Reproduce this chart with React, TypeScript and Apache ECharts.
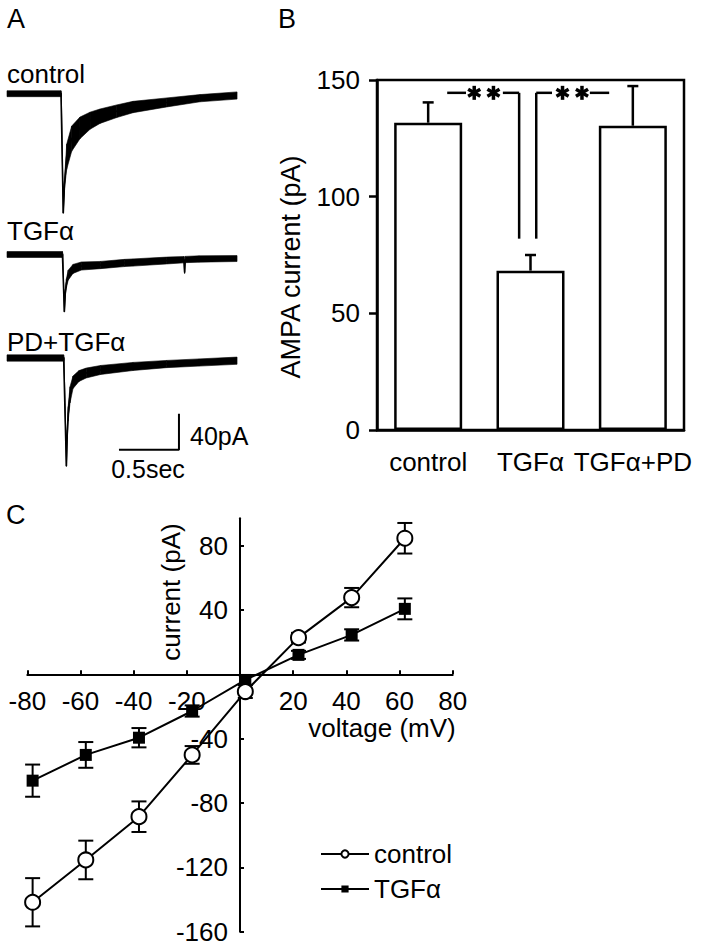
import React, { useEffect, useRef } from 'react';
import * as echarts from 'echarts';

const FONT = '"Liberation Sans", Arial, Helvetica, sans-serif';

// ---------- Panel A: example AMPA current traces (time s, current pA, noise half-width pA)
const CONTROL_T = [0, 0.45, 0.4525, 0.469, 0.479, 0.4975, 0.539, 0.608, 0.692, 0.775, 0.914, 1.05, 1.331, 1.608, 1.917];
const CONTROL_I = [0, 0, 0, -132.5, -101, -70, -50, -38, -30, -25, -19.5, -14.8, -9.7, -5, -2];
const CONTROL_N = [3.3, 3.3, 0.8, 0.5, 4.5, 14, 14, 12, 9.5, 8, 7, 6.3, 5, 4, 4];

const TGF_T = [0, 0.462, 0.465, 0.478, 0.486, 0.495, 0.51, 0.55, 0.62, 0.78, 0.98, 1.05, 1.33, 1.475, 1.48, 1.485, 1.6, 1.917];
const TGF_I = [0, 0, 0, -63.5, -42, -32, -23, -16, -12.8, -11.7, -9.4, -8.9, -6.7, -5.8, -20, -5.6, -5, -4.5];
const TGF_N = [3.3, 3.3, 0.8, 0.5, 3, 5, 5.5, 5, 4.5, 4, 4, 4, 3.8, 3.5, 1, 3.5, 3.5, 3.3];

const PD_T = [0, 0.472, 0.475, 0.495, 0.502, 0.51, 0.525, 0.55, 0.6, 0.66, 0.78, 1.05, 1.33, 1.6, 1.917];
const PD_I = [0, 0, 0, -120, -85, -62, -41, -27, -20, -16.7, -13.3, -9.4, -6.7, -5, -3];
const PD_N = [3.5, 3.5, 0.8, 0.5, 5, 8, 9, 7, 6, 5.5, 5, 4.5, 4, 4, 4];

const TRACE_LABELS = ['control', 'TGFα', 'PD+TGFα'];

// scale bar (corner position in the PD+TGFα trace's coordinates)
const SCALE_CORNER = [1.433, -102];
const SCALE_DT = 0.5; // s
const SCALE_DI = 40; // pA

// ---------- Panel B: mean AMPA current
const B_CATEGORIES = ['control', 'TGFα', 'TGFα+PD'];
const B_MEANS = [131.7, 68.3, 130.4];
const B_SEM = [8.7, 6.7, 17];
const B_TICKS = [0, 50, 100, 150];
// significance brackets (category-index x, pA y): segments and asterisk positions
const B_BRACKET_SEGS = [
  [0.186, 144.5, 0.37, 144.5],
  [0.73, 144.5, 0.889, 144.5],
  [0.889, 144.5, 0.889, 82],
  [1.056, 82, 1.056, 144.5],
  [1.056, 144.5, 1.21, 144.5],
  [1.58, 144.5, 1.769, 144.5],
];
const B_STARS = [
  [0.45, 144.5],
  [0.638, 144.5],
  [1.313, 144.5],
  [1.503, 144.5],
];

// ---------- Panel C: I-V relation
const VOLTAGES = [-78, -58, -38, -18, 2, 22, 42, 62];
const C_CONTROL = [-141.7, -115.4, -88.5, -50.1, -10.7, 22.8, 47.7, 84.6];
const C_CONTROL_SEM = [15, 12, 9.5, 5.5, 4, 3, 6, 9.5];
const C_TGF = [-66.1, -50.1, -39.4, -22.8, -3.5, 12.1, 24.5, 40.7];
const C_TGF_SEM = [10, 8, 6, 3.5, 3, 2.5, 3.5, 6.5];
const C_X_RANGE = [-80, 80];
const C_Y_RANGE = [-160, 97];
const C_X_LABELS = [-80, -60, -40, -20, 20, 40, 60, 80];
const C_X_TICKS = [-80, -60, -40, -20, 0, 20, 40, 60, 80];
const C_Y_LABELS = [-160, -120, -80, -40, 40, 80];
const C_Y_TICKS = [-160, -120, -80, -40, 0, 40, 80];

// panel C grid box (pixels)
const C_GRID = { left: 27.3, top: 518.3, width: 425.4, height: 413.4 };
// offsets so that the axes cross at the origin (0 mV, 0 pA)
const C_ZERO_X = C_GRID.left + (C_GRID.width * (0 - C_X_RANGE[0])) / (C_X_RANGE[1] - C_X_RANGE[0]);
const C_ZERO_Y = C_GRID.top + (C_GRID.height * (C_Y_RANGE[1] - 0)) / (C_Y_RANGE[1] - C_Y_RANGE[0]);

function txt(text: string, x: number, y: number, o: any = {}) {
  return {
    type: 'text',
    x,
    y,
    rotation: o.rotation || 0,
    silent: true,
    style: {
      text,
      fill: '#000',
      fontSize: o.fontSize || 26,
      fontFamily: FONT,
      align: o.align || 'left',
      verticalAlign: 'middle',
    },
  };
}

function bandSeries(T: number[], I: number[], N: number[], idx: number) {
  return {
    type: 'custom',
    xAxisIndex: idx,
    yAxisIndex: idx,
    silent: true,
    z: 2,
    data: T.map((t, k) => [t, I[k], N[k]]),
    renderItem: (params: any, api: any) => {
      const k = params.dataIndex;
      if (k >= T.length - 1) return null;
      const a1 = api.coord([T[k], I[k] + N[k]]);
      const a2 = api.coord([T[k + 1], I[k + 1] + N[k + 1]]);
      const b2 = api.coord([T[k + 1], I[k + 1] - N[k + 1]]);
      const b1 = api.coord([T[k], I[k] - N[k]]);
      return {
        type: 'polygon',
        shape: { points: [a1, a2, b2, b1] },
        style: { fill: '#000', stroke: '#000', lineWidth: 0.6 },
      };
    },
  };
}

function traceLine(T: number[], I: number[], idx: number) {
  return {
    type: 'line',
    xAxisIndex: idx,
    yAxisIndex: idx,
    silent: true,
    z: 3,
    showSymbol: false,
    symbol: 'none',
    data: T.map((t, k) => [t, I[k]]),
    lineStyle: { color: '#000', width: 1.6 },
  };
}

function errorSeries(xs: number[], lo: number[], hi: number[], xi: number, yi: number, capHalf: number, lw: number, bottomCap: boolean) {
  return {
    type: 'custom',
    xAxisIndex: xi,
    yAxisIndex: yi,
    silent: true,
    z: 1,
    data: xs.map((x, k) => [x, lo[k], hi[k]]),
    renderItem: (params: any, api: any) => {
      const x = api.value(0);
      const pLo = api.coord([x, api.value(1)]);
      const pHi = api.coord([x, api.value(2)]);
      const st = { stroke: '#000', lineWidth: lw };
      const children: any[] = [
        { type: 'line', shape: { x1: pLo[0], y1: pLo[1], x2: pHi[0], y2: pHi[1] }, style: st },
        { type: 'line', shape: { x1: pHi[0] - capHalf, y1: pHi[1], x2: pHi[0] + capHalf, y2: pHi[1] }, style: st },
      ];
      if (bottomCap) {
        children.push({ type: 'line', shape: { x1: pLo[0] - capHalf, y1: pLo[1], x2: pLo[0] + capHalf, y2: pLo[1] }, style: st });
      }
      return { type: 'group', children };
    },
  };
}

const PX_PER_PA_A = 0.9;
function traceGrid(baselineY: number, minI: number, maxI: number) {
  return {
    left: 7,
    width: 240,
    top: baselineY - maxI * PX_PER_PA_A,
    height: (maxI - minI) * PX_PER_PA_A,
    show: false,
    containLabel: false,
    outerBoundsMode: 'none',
  };
}

const hiddenX = (gridIndex: number, min: number, max: number) => ({ type: 'value', gridIndex, min, max, show: false });
const hiddenY = (gridIndex: number, min: number, max: number) => ({ type: 'value', gridIndex, min, max, show: false });

const option: any = {
  animation: false,
  backgroundColor: '#fff',
  textStyle: { fontFamily: FONT, color: '#000' },
  grid: [
    traceGrid(93.7, -140, 10),
    traceGrid(254.5, -70, 10),
    traceGrid(358, -130, 10),
    {
      left: 377, top: 80, width: 307, height: 350,
      show: true, borderColor: '#000', borderWidth: 2.5, backgroundColor: 'transparent',
      containLabel: false, outerBoundsMode: 'none',
    },
    { ...C_GRID, show: false, containLabel: false, outerBoundsMode: 'none' },
  ],
  xAxis: [
    hiddenX(0, 0, 2),
    hiddenX(1, 0, 2),
    hiddenX(2, 0, 2),
    {
      type: 'category',
      gridIndex: 3,
      data: B_CATEGORIES,
      axisLine: { onZero: false, lineStyle: { color: '#000', width: 2.5 } },
      axisTick: { alignWithLabel: true, length: 8, lineStyle: { color: '#000', width: 2.5 } },
      axisLabel: { interval: 0, fontSize: 26, color: '#000', margin: 19, fontFamily: FONT, hideOverlap: false },
    },
    hiddenX(3, -0.5, 2.5),
    {
      type: 'value',
      gridIndex: 4,
      position: 'bottom',
      min: C_X_RANGE[0],
      max: C_X_RANGE[1],
      interval: 20,
      offset: -(C_GRID.top + C_GRID.height - C_ZERO_Y),
      axisLine: { onZero: false, lineStyle: { color: '#000', width: 2 } },
      axisTick: { inside: true, length: 4, lineStyle: { color: '#000', width: 2 }, customValues: C_X_TICKS },
      axisLabel: { fontSize: 26, color: '#000', margin: 14, fontFamily: FONT, customValues: C_X_LABELS, hideOverlap: false },
      splitLine: { show: false },
    },
  ],
  yAxis: [
    hiddenY(0, -140, 10),
    hiddenY(1, -70, 10),
    hiddenY(2, -130, 10),
    {
      type: 'value',
      gridIndex: 3,
      min: B_TICKS[0],
      max: B_TICKS[B_TICKS.length - 1],
      interval: 50,
      axisLine: { show: true, onZero: false, lineStyle: { color: '#000', width: 2.5 } },
      axisTick: { show: true, length: 8, lineStyle: { color: '#000', width: 2.5 } },
      axisLabel: { fontSize: 26, color: '#000', margin: 17, fontFamily: FONT },
      splitLine: { show: false },
    },
    {
      type: 'value',
      gridIndex: 4,
      position: 'left',
      min: C_Y_RANGE[0],
      max: C_Y_RANGE[1],
      interval: 40,
      offset: -(C_ZERO_X - C_GRID.left),
      axisLine: { show: true, onZero: false, lineStyle: { color: '#000', width: 2 } },
      axisTick: { show: true, inside: true, length: 4, lineStyle: { color: '#000', width: 2 }, customValues: C_Y_TICKS },
      axisLabel: { fontSize: 26, color: '#000', margin: 12, fontFamily: FONT, customValues: C_Y_LABELS, hideOverlap: false },
      splitLine: { show: false },
    },
  ],
  legend: {
    data: ['control', 'TGFα'],
    orient: 'vertical',
    left: 315,
    top: 836,
    itemWidth: 48,
    itemHeight: 9,
    itemGap: 9,
    textStyle: { fontSize: 26, color: '#000', fontFamily: FONT },
    selectedMode: false,
  },
  graphic: {
    elements: [
      txt('A', 7, 19, { fontSize: 27 }),
      txt('B', 278, 19, { fontSize: 27 }),
      txt('C', 6, 515, { fontSize: 27 }),
      txt(TRACE_LABELS[0], 7, 74),
      txt(TRACE_LABELS[1], 7, 231),
      txt(TRACE_LABELS[2], 7, 342),
      txt(`${SCALE_DI}pA`, 190, 436, { fontSize: 25 }),
      txt(`${SCALE_DT}sec`, 148, 469, { fontSize: 25, align: 'center' }),
      txt('AMPA current (pA)', 291, 267, { rotation: Math.PI / 2, align: 'center', fontSize: 27 }),
      txt('current (pA)', 171, 592, { rotation: Math.PI / 2, align: 'center' }),
      txt('voltage (mV)', 382, 728, { align: 'center' }),
    ],
  },
  series: [
    bandSeries(CONTROL_T, CONTROL_I, CONTROL_N, 0),
    traceLine(CONTROL_T, CONTROL_I, 0),
    bandSeries(TGF_T, TGF_I, TGF_N, 1),
    traceLine(TGF_T, TGF_I, 1),
    bandSeries(PD_T, PD_I, PD_N, 2),
    traceLine(PD_T, PD_I, 2),
    {
      type: 'line',
      xAxisIndex: 2,
      yAxisIndex: 2,
      silent: true,
      showSymbol: false,
      symbol: 'none',
      data: [
        [SCALE_CORNER[0] - SCALE_DT, SCALE_CORNER[1]],
        [SCALE_CORNER[0], SCALE_CORNER[1]],
        [SCALE_CORNER[0], SCALE_CORNER[1] + SCALE_DI],
      ],
      lineStyle: { color: '#000', width: 2 },
    },
    // Panel B
    {
      type: 'bar',
      xAxisIndex: 3,
      yAxisIndex: 3,
      silent: true,
      barWidth: 68,
      data: B_MEANS,
      itemStyle: { color: '#fff', borderColor: '#000', borderWidth: 2.5 },
    },
    errorSeries([0, 1, 2], B_MEANS, B_MEANS.map((m, k) => m + B_SEM[k]), 4, 3, 5.5, 2.5, false),
    {
      type: 'custom',
      xAxisIndex: 4,
      yAxisIndex: 3,
      silent: true,
      data: B_BRACKET_SEGS,
      renderItem: (params: any, api: any) => {
        const p1 = api.coord([api.value(0), api.value(1)]);
        const p2 = api.coord([api.value(2), api.value(3)]);
        return { type: 'line', shape: { x1: p1[0], y1: p1[1], x2: p2[0], y2: p2[1] }, style: { stroke: '#000', lineWidth: 2.5 } };
      },
    },
    {
      type: 'custom',
      xAxisIndex: 4,
      yAxisIndex: 3,
      silent: true,
      data: B_STARS,
      renderItem: (params: any, api: any) => {
        const c = api.coord([api.value(0), api.value(1)]);
        const r = 7;
        const children = [90, 30, -30].map((deg) => {
          const a = (deg * Math.PI) / 180;
          return {
            type: 'line',
            shape: { x1: c[0] - r * Math.cos(a), y1: c[1] - r * Math.sin(a), x2: c[0] + r * Math.cos(a), y2: c[1] + r * Math.sin(a) },
            style: { stroke: '#000', lineWidth: 3.5 },
          };
        });
        return { type: 'group', children };
      },
    },
    // Panel C
    errorSeries(VOLTAGES, C_CONTROL.map((v, k) => v - C_CONTROL_SEM[k]), C_CONTROL.map((v, k) => v + C_CONTROL_SEM[k]), 5, 4, 7.5, 2, true),
    errorSeries(VOLTAGES, C_TGF.map((v, k) => v - C_TGF_SEM[k]), C_TGF.map((v, k) => v + C_TGF_SEM[k]), 5, 4, 7.5, 2, true),
    {
      name: 'TGFα',
      type: 'line',
      xAxisIndex: 5,
      yAxisIndex: 4,
      z: 3,
      silent: true,
      symbol: 'rect',
      symbolSize: 12,
      data: VOLTAGES.map((v, k) => [v, C_TGF[k]]),
      itemStyle: { color: '#000', borderColor: '#000', borderWidth: 0 },
      lineStyle: { color: '#000', width: 2 },
    },
    {
      name: 'control',
      type: 'line',
      xAxisIndex: 5,
      yAxisIndex: 4,
      z: 4,
      silent: true,
      symbol: 'circle',
      symbolSize: 15,
      data: VOLTAGES.map((v, k) => [v, C_CONTROL[k]]),
      itemStyle: { color: '#fff', borderColor: '#000', borderWidth: 2 },
      lineStyle: { color: '#000', width: 2 },
    },
  ],
};

export default function App() {
  const ref = useRef<HTMLDivElement>(null);
  useEffect(() => {
    const chart = echarts.init(ref.current as HTMLDivElement, null, { renderer: 'svg' });
    chart.setOption(option);
    return () => chart.dispose();
  }, []);
  return (
    <div
      ref={ref}
      style={{ position: 'absolute', left: 0, top: 0, width: 702, height: 943, background: '#fff' }}
    />
  );
}
